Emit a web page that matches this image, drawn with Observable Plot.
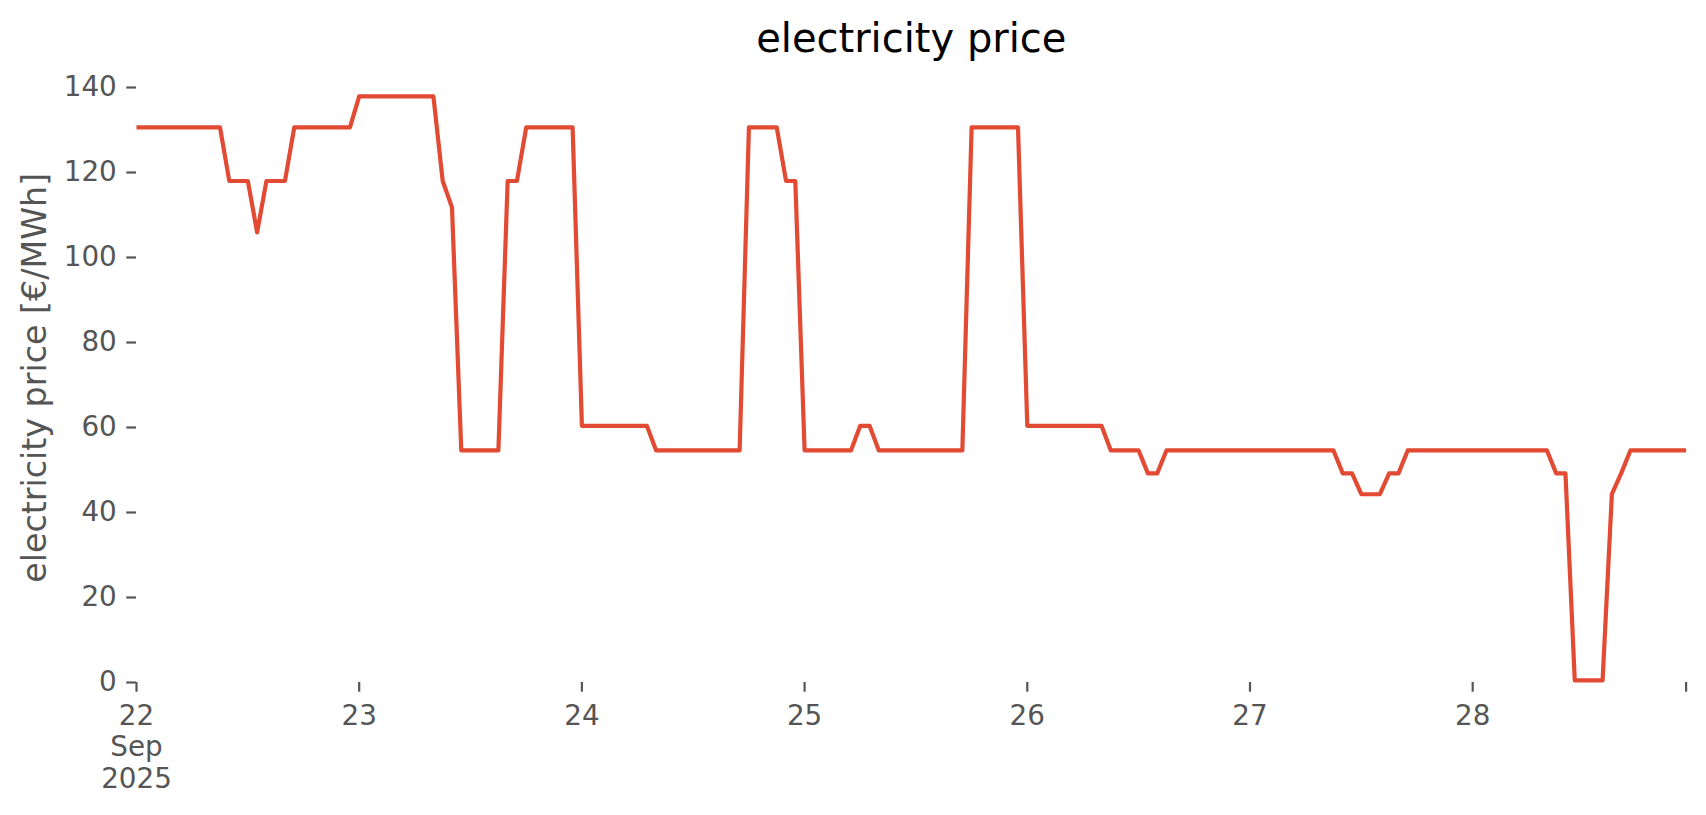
<!DOCTYPE html>
<html>
<head>
<meta charset="utf-8">
<script src="https://cdn.jsdelivr.net/npm/d3@7"></script>
<script src="https://cdn.jsdelivr.net/npm/@observablehq/plot@0.6"></script>
<style>
  html, body { margin: 0; padding: 0; background: white; }
</style>
</head>
<body>
<div id="chart"></div>
<script>
// Hourly electricity price [€/MWh], Sep 22 2025 00:00 .. Sep 28 2025 23:00 (UTC hours)
const startDate = Date.UTC(2025, 8, 22, 0);
const day22 = [130.6,130.6,130.6,130.6,130.6,130.6,130.6,130.6,130.6,130.6,118.0,118.0,118.0,105.9,118.0,118.0,118.0,130.6,130.6,130.6,130.6,130.6,130.6,130.6];
const day23 = [137.9,137.9,137.9,137.9,137.9,137.9,137.9,137.9,137.9,118.0,111.8,54.6,54.6,54.6,54.6,54.6,118.0,118.0,130.6,130.6,130.6,130.6,130.6,130.6];
const day24 = [60.4,60.4,60.4,60.4,60.4,60.4,60.4,60.4,54.6,54.6,54.6,54.6,54.6,54.6,54.6,54.6,54.6,54.6,130.6,130.6,130.6,130.6,118.0,118.0];
const day25 = [54.6,54.6,54.6,54.6,54.6,54.6,60.4,60.4,54.6,54.6,54.6,54.6,54.6,54.6,54.6,54.6,54.6,54.6,130.6,130.6,130.6,130.6,130.6,130.6];
const day26 = [60.4,60.4,60.4,60.4,60.4,60.4,60.4,60.4,60.4,54.6,54.6,54.6,54.6,49.2,49.2,54.6,54.6,54.6,54.6,54.6,54.6,54.6,54.6,54.6];
const day27 = [54.6,54.6,54.6,54.6,54.6,54.6,54.6,54.6,54.6,54.6,49.2,49.2,44.3,44.3,44.3,49.2,49.2,54.6,54.6,54.6,54.6,54.6,54.6,54.6];
const day28 = [54.6,54.6,54.6,54.6,54.6,54.6,54.6,54.6,54.6,49.2,49.2,0.5,0.5,0.5,0.5,44.3,49.2,54.6,54.6,54.6,54.6,54.6,54.6,54.6];

const prices = [...day22, ...day23, ...day24, ...day25, ...day26, ...day27, ...day28];
const data = prices.map((p, i) => ({date: new Date(startDate + i * 3600e3), price: p}));

const yTicks = [0, 20, 40, 60, 80, 100, 120, 140];
const xTickDays = [22, 23, 24, 25, 26, 27, 28];
const xTicks = [...xTickDays.map(d => new Date(Date.UTC(2025, 8, d))), data[data.length - 1].date];

const titleText = "electricity price";
const yLabelText = "electricity price [€/MWh]";

const W = 1706, H = 815;
const chart = Plot.plot({
  width: W,
  height: H,
  marginLeft: 136,
  marginRight: 20.4,
  marginTop: 66.6,
  marginBottom: 133,
  style: {fontFamily: "DejaVu Sans", background: "white", color: "#555555"},
  x: {type: "utc", domain: [data[0].date, data[data.length - 1].date]},
  y: {domain: [0, 144.8]},
  marks: [
    Plot.lineY(data, {x: "date", y: "price", stroke: "#E24A33", strokeWidth: 4.2, strokeLinecap: "butt"}),
    Plot.axisY({
      ticks: yTicks, tickSize: 9.7, tickPadding: 10, fontSize: 27.8,
      stroke: "#555555", fill: "#555555", strokeWidth: 2.2, label: null
    }),
    Plot.axisX({
      ticks: xTicks, tickSize: 9.7, tickPadding: 10, fontSize: 27.8, lineHeight: 1.14,
      stroke: "#555555", fill: "#555555", strokeWidth: 2.2, label: null,
      tickFormat: (d) => {
        if (d.getUTCHours() !== 0) return "";
        if (d.getUTCDate() === 22) return "22\nSep\n2025";
        return String(d.getUTCDate());
      }
    }),
    Plot.text([titleText], {frameAnchor: "top", dy: -14.9, lineAnchor: "bottom", fontSize: 40, fill: "black"}),
    Plot.text([yLabelText], {frameAnchor: "left", textAnchor: "middle", rotate: -90, dx: -91, dy: 3, lineAnchor: "bottom", fontSize: 33.3, fill: "#555555"})
  ]
});
document.getElementById("chart").appendChild(chart);
</script>
</body>
</html>
